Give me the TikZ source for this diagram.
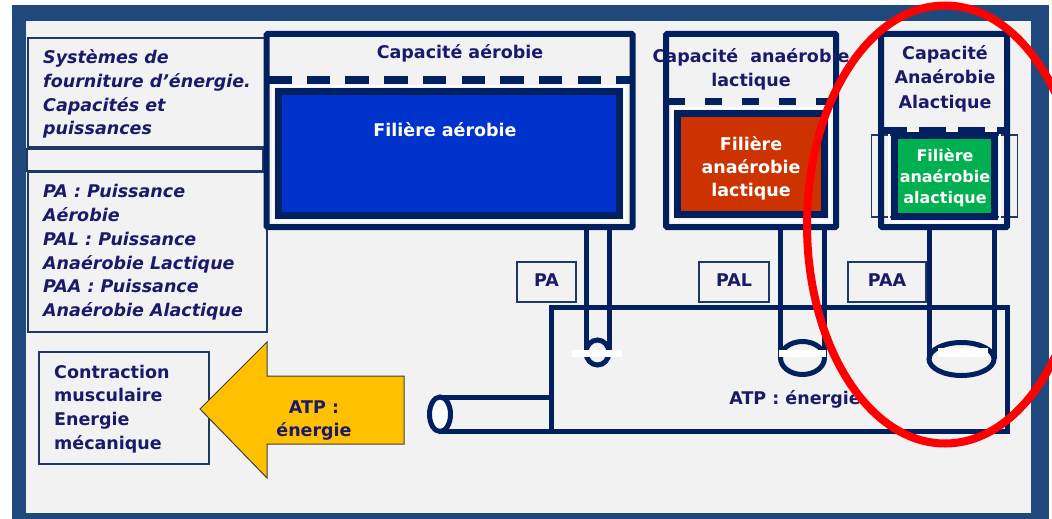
\documentclass[tikz,border=0pt]{standalone}
\usepackage{fontspec}
\setmainfont{DejaVu Sans}
\definecolor{framec}{HTML}{1F497D}
\definecolor{bgc}{HTML}{F2F2F2}
\definecolor{navy}{HTML}{002060}
\definecolor{txtc}{HTML}{1A1A6B}
\definecolor{lboxc}{HTML}{203864}
\definecolor{aerob}{HTML}{0033CC}
\definecolor{lact}{HTML}{CC3300}
\definecolor{alact}{HTML}{00B050}
\definecolor{atpy}{HTML}{FFC000}
\newcommand{\fA}{\fontsize{17.5}{23.8}\selectfont\bfseries}
\newcommand{\fI}{\fontsize{17.5}{23.8}\selectfont\bfseries\itshape}
\begin{document}
\begin{tikzpicture}[x=1pt,y=-1pt,
  wall/.style={draw=navy,line width=6pt,rounded corners=1pt},
  pipe/.style={draw=navy,line width=5pt},
  lbox/.style={draw=lboxc,line width=1.3pt},
  inbox/.style={draw=navy,line width=7pt},
  ring/.style={draw=white,line width=2pt},
  dashl/.style={draw=navy,line width=7pt},
  bar/.style={fill=white},
  txt/.style={inner sep=0pt,align=center,text=txtc,font=\fA},
  wtxt/.style={inner sep=0pt,align=center,text=white,font=\fA},
  itxt/.style={inner sep=0pt,align=left,text=txtc,font=\fI},
  ltxt/.style={inner sep=0pt,align=left,text=txtc,font=\fA}]
\useasboundingbox (0,0) rectangle (1052,519);
\fill[white] (0,0) rectangle (1052,519);
\fill[framec] (12,5) rectangle (1049,519);
\fill[bgc] (26,21) rectangle (1031,513);

% left boxes
\draw[lbox] (28,38) rectangle (267,147);
\draw[lbox] (27,149) rectangle (263,171);
\draw[lbox] (28,172) rectangle (267,332);
\draw[lbox] (39,352) rectangle (209,464);

% label boxes
\draw[lbox] (517,262) rectangle (576,302);
\draw[lbox] (699,262) rectangle (769,302);
\draw[lbox] (848,262) rectangle (926,302);

% aerobic tank
\draw[ring] (273,86) rectangle (625,221);
\draw[inbox,fill=aerob] (278.5,91.5) rectangle (619.5,215.5);
\draw[wall] (266.5,34) rectangle (632.5,227);
\draw[dashl,dash pattern=on 23.5pt off 15.2pt] (268,80) -- (630,80);

% lactic tank
\draw[ring] (672,108) rectangle (830,221);
\draw[inbox,fill=lact] (677.5,113.5) rectangle (824.5,214.5);
\draw[wall] (666,34) rectangle (836,227);
\draw[dashl,dash pattern=on 17pt off 20pt] (668,101) -- (833,101);

% alactic tank
\draw[lboxc,line width=1.3pt] (871.5,135) rectangle (1017.5,217);
\draw[ring] (889,131) rectangle (1000,221.5);
\draw[inbox,fill=alact] (894.5,135.5) rectangle (994.5,216.5);
\draw[wall] (881,34) rectangle (1007,227);
\draw[dashl,dash pattern=on 27pt off 12pt] (880,130) -- (1004,130);

% ATP box and horizontal pipe
\draw[pipe] (551.5,307.5) rectangle (1007.5,431.5);
\draw[pipe] (551.5,397) -- (440,397);
\draw[pipe] (551.5,431.5) -- (440,431.5);
\draw[pipe,fill=white] (440,414.25) ellipse [x radius=10.5, y radius=17.25];

% vertical pipes
\draw[pipe] (586,227) -- (586,352.5);
\draw[pipe] (609,227) -- (609,352.5);
\draw[pipe] (597.5,352.5) ellipse [x radius=11.5, y radius=12.5];
\fill[bar] (572,350) rectangle (622,357);

\draw[pipe] (780.5,227) -- (780.5,358);
\draw[pipe] (824.5,227) -- (824.5,358);
\draw[pipe] (802.5,358) ellipse [x radius=22, y radius=16.5];
\fill[bar] (779,350) rectangle (826,357);

\draw[pipe] (929,227) -- (929,359);
\draw[pipe] (994,227) -- (994,359);
\draw[pipe] (961.5,359) ellipse [x radius=32.5, y radius=16.5];
\fill[bar] (938,348) rectangle (988,357);

% arrow
\draw[fill=atpy,draw=black!75,line width=1pt] (200,409) -- (267,342) -- (267,376) -- (404,376) -- (404,444) -- (267,444) -- (267,478) -- cycle;

% texts
\node[itxt,anchor=west] (sys) at (43,94.5) {\strut Systèmes de\\\strut fourniture d’énergie.\\\strut Capacités et\\\strut puissances};
\node[itxt,anchor=west] (leg) at (43,252.5) {\strut PA : Puissance\\\strut Aérobie\\\strut PAL : Puissance\\\strut Anaérobie Lactique\\\strut PAA : Puissance\\\strut Anaérobie Alactique};
\node[ltxt,anchor=west] (mus) at (54,409) {\strut Contraction\\\strut musculaire\\\strut Energie\\\strut mécanique};
\node[txt,font=\fontsize{17.5}{23}\selectfont\bfseries] (atpA) at (314,420) {\strut ATP :\\\strut énergie};

\node[txt] (capA) at (460,54) {\strut Capacité aérobie};
\node[wtxt] (filA) at (445,132) {\strut Filière aérobie};
\node[txt,font=\fontsize{17.5}{24.5}\selectfont\bfseries] (capL) at (751,69.5) {\strut Capacité\ \ anaérobie\\\strut lactique};
\node[wtxt,font=\fontsize{17.5}{23}\selectfont\bfseries] (filL) at (751,169) {\strut Filière\\\strut anaérobie\\\strut lactique};
\node[txt,font=\fontsize{17.5}{24.5}\selectfont\bfseries] (capAA) at (945,78.7) {\strut Capacité\\\strut Anaérobie\\\strut Alactique};
\node[wtxt,font=\fontsize{16}{21}\selectfont\bfseries] (filAA) at (945,178.3) {\strut Filière\\\strut anaérobie\\\strut alactique};

\node[txt] (pa) at (546.5,282) {\strut PA};
\node[txt] (pal) at (734,282) {\strut PAL};
\node[txt] (paa) at (887,282) {\strut PAA};
\node[txt] (atp) at (795,400) {\strut ATP : énergie};

% red highlight
\draw[red,line width=8pt] (945,224.5) ellipse [x radius=138, y radius=219];
\end{tikzpicture}
\end{document}
